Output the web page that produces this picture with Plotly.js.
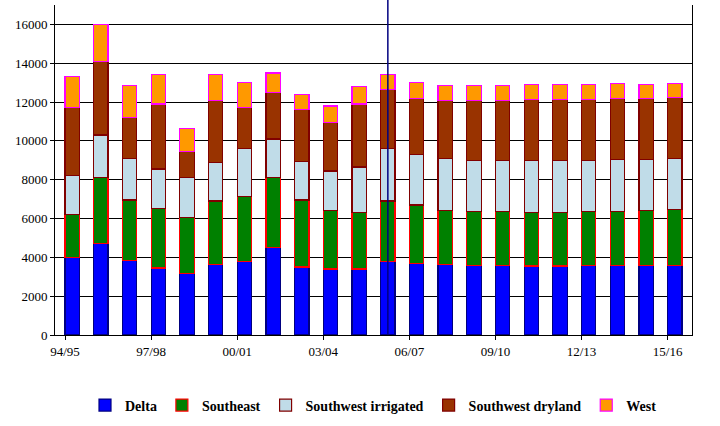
<!DOCTYPE html>
<html><head><meta charset="utf-8">
<script src="https://cdn.plot.ly/plotly-3.0.1.min.js"></script>
<style>body{margin:0}#chart{width:720px;height:426px}</style>
</head><body><div id="chart"></div>
<script>
const years = ['94/95','95/96','96/97','97/98','98/99','99/00','00/01','01/02','02/03','03/04','04/05','05/06','06/07','07/08','08/09','09/10','10/11','11/12','12/13','13/14','14/15','15/16'];
const delta = [4000,4700,3850,3450,3150,3650,3800,4500,3500,3400,3400,3800,3700,3650,3600,3600,3550,3550,3600,3600,3600,3600];
const southeast = [2200,3400,3100,3050,2900,3250,3350,3600,3450,3000,2900,3100,3000,2750,2750,2750,2750,2750,2750,2750,2800,2850];
const swIrrigated = [2000,2200,2150,2050,2050,2000,2450,2000,2000,2050,2350,2700,2600,2700,2650,2650,2700,2700,2650,2700,2650,2650];
const swDryland = [3500,3800,2100,3350,1350,3200,2100,2400,2650,2500,3250,3050,2900,3000,3100,3100,3150,3150,3150,3150,3150,3150];
const west = [1600,1900,1650,1500,1200,1300,1300,1000,800,850,900,750,800,750,750,750,750,750,750,750,700,700];
const tickYears = ['94/95','97/98','00/01','03/04','06/07','09/10','12/13','15/16'];

const x = years.map((_, i) => i);
const series = [
  ['Delta', delta, '#0000ff', '#000080'],
  ['Southeast', southeast, '#008000', '#ff0000'],
  ['Southwest irrigated', swIrrigated, '#c0dce8', '#800000'],
  ['Southwest dryland', swDryland, '#993300', '#800000'],
  ['West', west, '#ff9900', '#ff00ff']
];
const traces = series.map(s => ({
  type: 'bar', name: s[0], x: x, y: s[1],
  marker: {color: s[2], line: {color: s[3], width: 1.2}}
}));
const layout = {
  barmode: 'stack', bargap: 0.5,
  width: 720, height: 426,
  margin: {l: 55, r: 28, t: 5, b: 70},
  paper_bgcolor: '#fff', plot_bgcolor: '#fff',
  font: {family: 'Liberation Serif, serif', size: 13, color: '#000'},
  xaxis: {
    range: [-0.6, 21.6],
    tickvals: tickYears.map(t => years.indexOf(t) - 0.25),
    ticktext: tickYears,
    showline: true, linecolor: '#000', ticks: 'outside', ticklen: 4, tickcolor: '#000',
    showgrid: false, zeroline: false, automargin: false
  },
  yaxis: {
    range: [0, 17000], dtick: 2000, tickformat: 'd',
    showgrid: true, gridcolor: '#000', gridwidth: 1,
    showline: true, linecolor: '#000', mirror: true, ticks: 'outside', ticklen: 4, tickcolor: '#000',
    zeroline: false, automargin: false
  },
  legend: {orientation: 'h', x: 0.5, xanchor: 'center', y: -0.165, yanchor: 'top',
    font: {family: 'Liberation Serif, serif', size: 14, weight: 'bold'}, traceorder: 'normal'},
  shapes: [{type: 'line', xref: 'x', yref: 'paper', x0: 11, x1: 11, y0: 0, y1: 1.02,
    line: {color: '#000080', width: 1.5}}],
  showlegend: true
};
Plotly.newPlot('chart', traces, layout, {displayModeBar: false});
</script></body></html>
